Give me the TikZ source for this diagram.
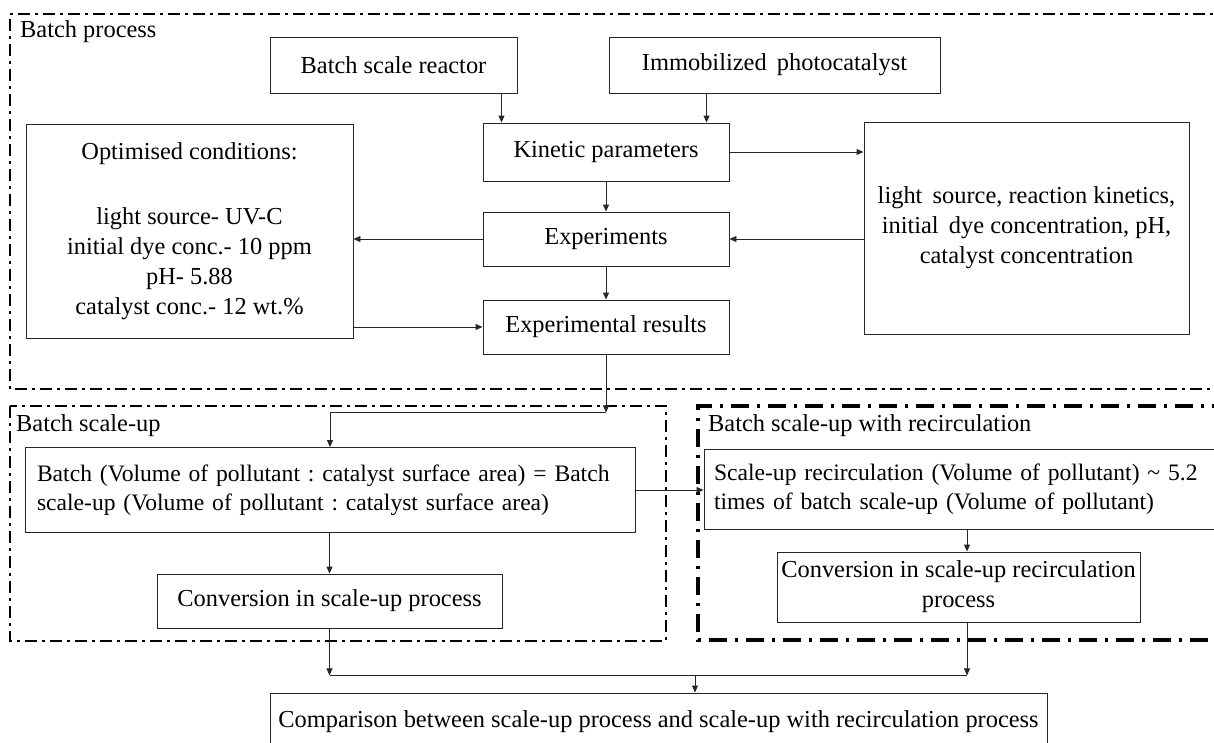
\documentclass[tikz,border=0pt]{standalone}
\usepackage{fontspec}
\setmainfont{Liberation Serif}
\usetikzlibrary{arrows.meta,calc}
\newcommand\myfs{\fontsize{24.4}{30}\selectfont\frenchspacing}
\newcommand\myfss{\fontsize{23.6}{29}\selectfont\frenchspacing}
\newcommand\wsp{\hspace{0.42em}}
\begin{document}
\begin{tikzpicture}[x=1pt,y=-1pt,
  box/.style={draw=black!85,line width=0.9pt,inner sep=0pt,align=center,font=\myfs},
  arr/.style={draw=black!85,line width=0.9pt,-{Triangle[length=7pt,width=6pt]}},
  ln/.style={draw=black!85,line width=0.9pt},
  bord/.style={line width=2.6pt,dash pattern=on 12pt off 5pt on 3pt off 5pt},
  bordb/.style={line width=3.2pt,dash pattern=on 18pt off 8pt on 3pt off 8pt},
  lab/.style={anchor=west,inner sep=0pt,font=\myfs}]
\useasboundingbox (0,0) rectangle (1214,742);
% group borders
\draw[bord] (1230,14) -- (10,14) -- (10,389) -- (1230,389);
\draw[bord] (10,406) rectangle (666,641);
\draw[bordb] (1230,406) -- (698,406) -- (698,640) -- (1230,640);
\node[lab] (l1) at (20,32) {Batch process};
\node[lab] (l2) at (16,426) {Batch scale-up};
\node[lab] (l3) at (708,426) {Batch scale-up with recirculation};
% boxes
\node[box,minimum width=247pt,minimum height=56pt] (reactor) at (393.5,65) {Batch scale reactor};
\node[box,minimum width=331pt,minimum height=56pt] (immob) at (774.5,65) {Immobilized\wsp photocatalyst};
\node[box,minimum width=246pt,minimum height=58pt] (kin) at (606,152) {Kinetic parameters};
\node[box,minimum width=327pt,minimum height=214pt] (opt) at (189.5,231) {Optimised conditions:\\[5pt]\\light source- UV-C\\initial dye conc.- 10 ppm\\pH- 5.88\\catalyst conc.- 12 wt.\%};
\node[box,minimum width=325pt,minimum height=212pt] (rbox) at (1026.5,228) {light\wsp source, reaction kinetics,\\initial\wsp dye concentration, pH,\\catalyst concentration};
\node[box,minimum width=246pt,minimum height=54pt] (exps) at (606,239) {Experiments};
\node[box,minimum width=246pt,minimum height=54pt] (expres) at (606,327) {Experimental results};
\node[box,font=\myfss,minimum height=85pt,align=left,text width=586pt,inner xsep=12pt] (batch) at (330,490) {\mbox{Batch (Volume of pollutant : catalyst surface area) = Batch}\\\mbox{scale-up (Volume of pollutant : catalyst surface area)}};
\node[box,minimum width=345pt,minimum height=54pt] (conv1) at (329.5,601) {Conversion in scale-up process};
\node[box,font=\myfss,minimum height=80pt,align=left,text width=540pt,inner xsep=10pt] (recbox) at (984,489) {\mbox{Scale-up recirculation (Volume of pollutant) \textasciitilde{} 5.2}\\\mbox{times of batch scale-up (Volume of pollutant)}};
\node[box,minimum width=363pt,minimum height=70pt] (conv2) at (958.5,587) {Conversion in scale-up recirculation\\process};
\node[box,minimum width=777pt,minimum height=57pt] (comp) at (658.5,721.5) {Comparison between scale-up process and scale-up with recirculation process};
% connectors
\coordinate (a1) at ($(reactor.south east)+(-16,0)$);
\draw[arr] (a1) -- (a1 |- kin.north);
\coordinate (a2) at ($(immob.south west)+(98,0)$);
\draw[arr] (a2) -- (a2 |- kin.north);
\draw[arr] (kin.east) -- (kin.east -| rbox.west);
\draw[arr] (kin.south) -- (exps.north);
\draw[arr] (rbox.west |- exps.east) -- (exps.east);
\draw[arr] (exps.west) -- (exps.west -| opt.east);
\draw[arr] (opt.east |- expres.west) -- (expres.west);
\draw[arr] (exps.south) -- (expres.north);
\coordinate (j1) at ($(expres.south)+(0,58)$);
\draw[arr] (expres.south) -- (j1);
\draw[arr] (j1) -| (batch.north);
\draw[arr] (batch.east) -- (batch.east -| recbox.west);
\draw[arr] (batch.south -| conv1.north) -- (conv1.north);
\coordinate (a3) at (967,0);
\draw[arr] (recbox.south -| a3) -- (conv2.north -| a3);
\coordinate (j2) at ($(conv1.south)+(0,47)$);
\coordinate (j3) at (a3 |- j2);
\draw[arr] (conv2.south -| a3) -- (j3);
\draw[arr] (conv1.south) -- (j2);
\draw[ln] (j2) -- (j3);
\coordinate (j4) at (695,675);
\draw[arr] (j4) -- (j4 |- comp.north);
\end{tikzpicture}
\end{document}
